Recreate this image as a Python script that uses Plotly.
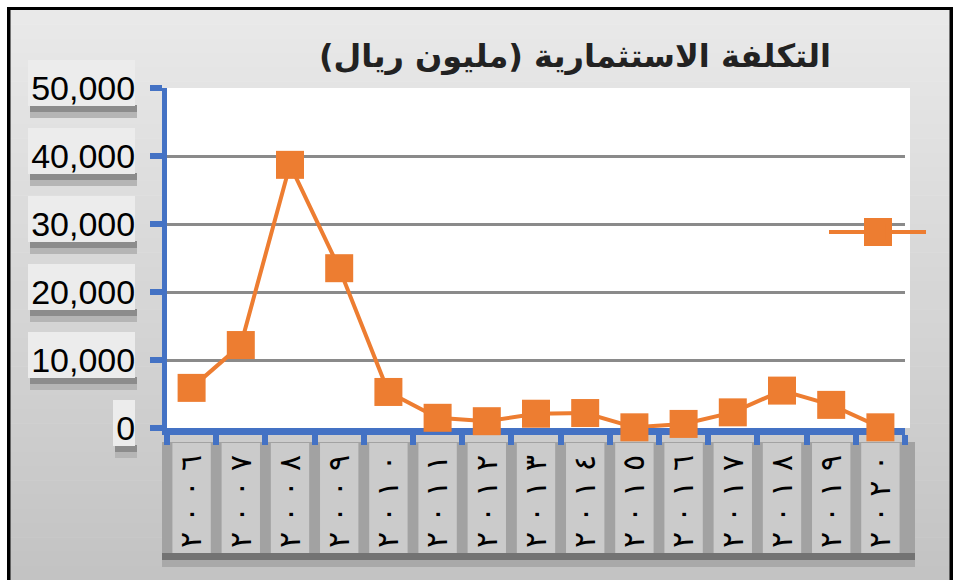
import plotly.graph_objects as go

# ---------------- data ----------------
years = ["٢٠٠٦", "٢٠٠٧", "٢٠٠٨", "٢٠٠٩", "٢٠١٠", "٢٠١١", "٢٠١٢", "٢٠١٣",
         "٢٠١٤", "٢٠١٥", "٢٠١٦", "٢٠١٧", "٢٠١٨", "٢٠١٩", "٢٠٢٠"]
cost = [5900, 12200, 38700, 23500, 5300, 1500, 1000, 2100,
        2200, 100, 600, 2300, 5500, 3400, 100]
y_ticks = [0, 10000, 20000, 30000, 40000, 50000]
y_tick_labels = ["0", "10,000", "20,000", "30,000", "40,000", "50,000"]
title_text = "التكلفة الاستثمارية (مليون ريال)"
series_name = ""

# spaced-out year labels (as drawn in the original); LRO keeps digit order
x_tick_labels = ["\u202D" + " ".join(list(y)) + "\u202C" for y in years]

# ---------------- geometry helpers ----------------
W, H = 959, 580
L, R, T, B = 167, 54, 88, 152
PW, PH = W - L - R, H - T - B
YMAX = 50000
ORANGE = "#ED7D31"
BLUE = "#4472C4"


def fx(px):
    return (px - L) / PW


def fy(py):
    return (H - B - py) / PH


def vy(v):
    return H - B - v * PH / YMAX


shapes = []


def rect(x0, y0, x1, y1, color, layer="below"):
    shapes.append(dict(type="rect", xref="paper", yref="paper",
                       x0=fx(x0), x1=fx(x1), y0=fy(y1), y1=fy(y0),
                       fillcolor=color, line=dict(width=0), layer=layer))


# background gradient
n = 40
top_y, bot_y = 10, 580
c_top, c_bot = 233, 195
for i in range(n):
    y0 = top_y + (bot_y - top_y) * i / n
    y1 = top_y + (bot_y - top_y) * (i + 1) / n + 0.5
    c = round(c_top + (c_bot - c_top) * (i + 0.5) / n)
    rect(10, y0, 950, y1, f"rgb({c},{c},{c})")

# border
rect(7, 7, 10.5, 580, "black")
rect(7, 7, 953, 10, "black")
rect(949.5, 7, 953, 580, "black")

# white plot area
rect(L, T, 910, H - B, "white")

# y tick label boxes
for v, lab in zip(y_ticks, y_tick_labels):
    py = vy(v)
    w = 107 if len(lab) > 1 else 22
    x1 = 135
    x0 = x1 - w
    rect(x0 + 2, py + 17, x1 + 2, py + 24, "#8c8c8c")
    rect(x0 + 2, py + 24, x1 + 2, py + 30, "#b5b5b5")
    rect(x0, py - 28, x1, py + 18, "#ececec")

# x tick label boxes
rect(162, 442, 915, 553, "#a2a2a2")
for i in range(len(years)):
    shapes.append(dict(type="rect", xref="x", yref="paper",
                       x0=i - 0.39, x1=i + 0.39, y0=fy(553), y1=fy(443),
                       fillcolor="#cbcbcb", line=dict(width=0), layer="below"))
rect(162, 553, 915, 560, "#737373")
rect(162, 560, 915, 567, "#a9a9a9")

# enlarged legend marker (legend symbols are size-capped in plotly)
rect(864, 218, 892, 246, ORANGE, layer="above")

# ---------------- figure ----------------
fig = go.Figure()
fig.add_trace(go.Scatter(
    x=years, y=cost, mode="lines+markers", name=series_name,
    line=dict(color=ORANGE, width=4),
    marker=dict(symbol="square", size=28, color=ORANGE, line=dict(width=0)),
    cliponaxis=False, showlegend=True,
))

fig.update_layout(
    width=W, height=H,
    margin=dict(l=L, r=R, t=T, b=B, pad=0),
    paper_bgcolor="white",
    plot_bgcolor="rgba(0,0,0,0)",
    shapes=shapes,
    showlegend=True,
    legend=dict(x=fx(824), y=fy(232), xanchor="left", yanchor="middle",
                itemwidth=97, bgcolor="rgba(0,0,0,0)",
                font=dict(family="DejaVu Sans", size=20, color="#222")),
    title=dict(text=title_text, x=575 / W, xref="container", xanchor="center",
               y=1 - 56 / H, yref="container", yanchor="middle",
               font=dict(family="DejaVu Sans", size=32, color="#222222",
                         weight="bold")),
    xaxis=dict(
        type="category",
        tickvals=years, ticktext=x_tick_labels,
        showgrid=False, zeroline=False,
        showline=True, linecolor=BLUE, linewidth=7,
        ticks="outside", ticklen=10, tickwidth=6, tickcolor=BLUE,
        tickson="boundaries",
        tickangle=-90,
        ticklabelstandoff=8,
        tickfont=dict(family="DejaVu Sans", size=30, color="black"),
        layer="below traces",
        range=[-0.5, len(years) - 0.5],
    ),
    yaxis=dict(
        range=[0, YMAX],
        tickvals=y_ticks, ticktext=y_tick_labels,
        showgrid=True, gridcolor="#8a8a8a", gridwidth=3,
        zeroline=False,
        showline=True, linecolor=BLUE, linewidth=5,
        ticks="outside", ticklen=12, tickwidth=6, tickcolor=BLUE,
        ticklabelstandoff=8,
        tickfont=dict(family="Liberation Sans", size=34, color="black"),
        layer="below traces",
    ),
)

fig.write_html("out.html")
